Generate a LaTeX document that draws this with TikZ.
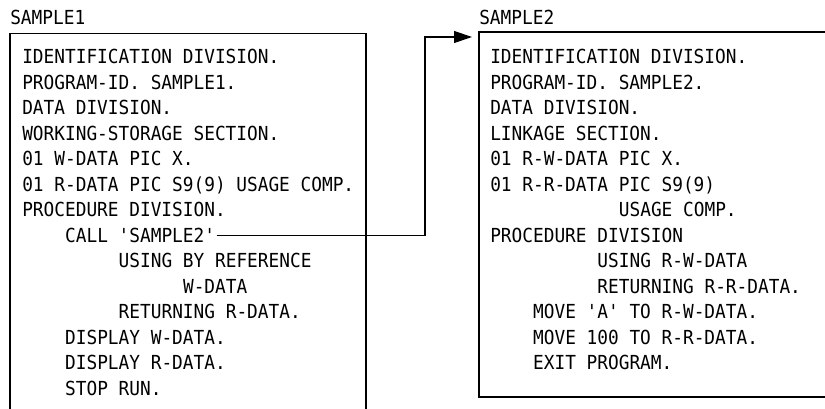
\documentclass[tikz,border=0pt]{standalone}
\usepackage{fontspec}
\setmonofont{DejaVu Sans Mono}[FakeStretch=0.92]
\usetikzlibrary{arrows.meta}
\newcommand\cw{10.72}
\newcommand\lh{25.5}
\tikzset{
  code/.style={anchor=base west,inner sep=0pt,font=\fontsize{14.5pt}{17pt}\selectfont\ttfamily},
  frame/.style={line width=0.9pt},
  conn/.style={line width=0.9pt,-{Triangle[length=13.5pt,width=9pt]}}
}
\begin{document}
\begin{tikzpicture}[x=0.75pt,y=-0.75pt]
\useasboundingbox (0,0) rectangle (825,409);
\clip (0,0) rectangle (825,409);
% labels
\node[code] (lab1) at (10,25) {SAMPLE1};
\node[code] (lab2) at (479,25) {SAMPLE2};
% frames (open boxes)
\draw[frame] (10,415) -- (10,33.5) -- (366,33.5) -- (366,415);
\draw[frame] (830,32) -- (479,32) -- (479,397) -- (830,397);
% left program
\node[code] (l1) at (22,64) {IDENTIFICATION DIVISION.};
\node[code] (l2) at (22,{64+1*\lh}) {PROGRAM-ID. SAMPLE1.};
\node[code] (l3) at (22,{64+2*\lh}) {DATA DIVISION.};
\node[code] (l4) at (22,{64+3*\lh}) {WORKING-STORAGE SECTION.};
\node[code] (l5) at (22,{64+4*\lh}) {01 W-DATA PIC X.};
\node[code] (l6) at (22,{64+5*\lh}) {01 R-DATA PIC S9(9) USAGE COMP.};
\node[code] (l7) at (22,{64+6*\lh}) {PROCEDURE DIVISION.};
\node[code] (call) at ({22+4*\cw},{64+7*\lh}) {CALL 'SAMPLE2'};
\node[code] (l9) at ({22+9*\cw},{64+8*\lh}) {USING BY REFERENCE};
\node[code] (l10) at ({22+15*\cw},{64+9*\lh}) {W-DATA};
\node[code] (l11) at ({22+9*\cw},{64+10*\lh}) {RETURNING R-DATA.};
\node[code] (l12) at ({22+4*\cw},{64+11*\lh}) {DISPLAY W-DATA.};
\node[code] (l13) at ({22+4*\cw},{64+12*\lh}) {DISPLAY R-DATA.};
\node[code] (l14) at ({22+4*\cw},{64+13*\lh}) {STOP RUN.};
% right program
\node[code] (r1) at (490,64) {IDENTIFICATION DIVISION.};
\node[code] (r2) at (490,{64+1*\lh}) {PROGRAM-ID. SAMPLE2.};
\node[code] (r3) at (490,{64+2*\lh}) {DATA DIVISION.};
\node[code] (r4) at (490,{64+3*\lh}) {LINKAGE SECTION.};
\node[code] (r5) at (490,{64+4*\lh}) {01 R-W-DATA PIC X.};
\node[code] (r6) at (490,{64+5*\lh}) {01 R-R-DATA PIC S9(9)};
\node[code] (r7) at ({490+12*\cw},{64+6*\lh}) {USAGE COMP.};
\node[code] (r8) at (490,{64+7*\lh}) {PROCEDURE DIVISION};
\node[code] (r9) at ({490+10*\cw},{64+8*\lh}) {USING R-W-DATA};
\node[code] (r10) at ({490+10*\cw},{64+9*\lh}) {RETURNING R-R-DATA.};
\node[code] (r11) at ({490+4*\cw},{64+10*\lh}) {MOVE 'A' TO R-W-DATA.};
\node[code] (r12) at ({490+4*\cw},{64+11*\lh}) {MOVE 100 TO R-R-DATA.};
\node[code] (r13) at ({490+4*\cw},{64+12*\lh}) {EXIT PROGRAM.};
% connector
\coordinate (bendx) at (425,0);
\coordinate (tgt) at (472,37);
\draw[conn] ([xshift=1pt]call.east) -| (bendx |- tgt) -- (tgt);
\end{tikzpicture}
\end{document}
